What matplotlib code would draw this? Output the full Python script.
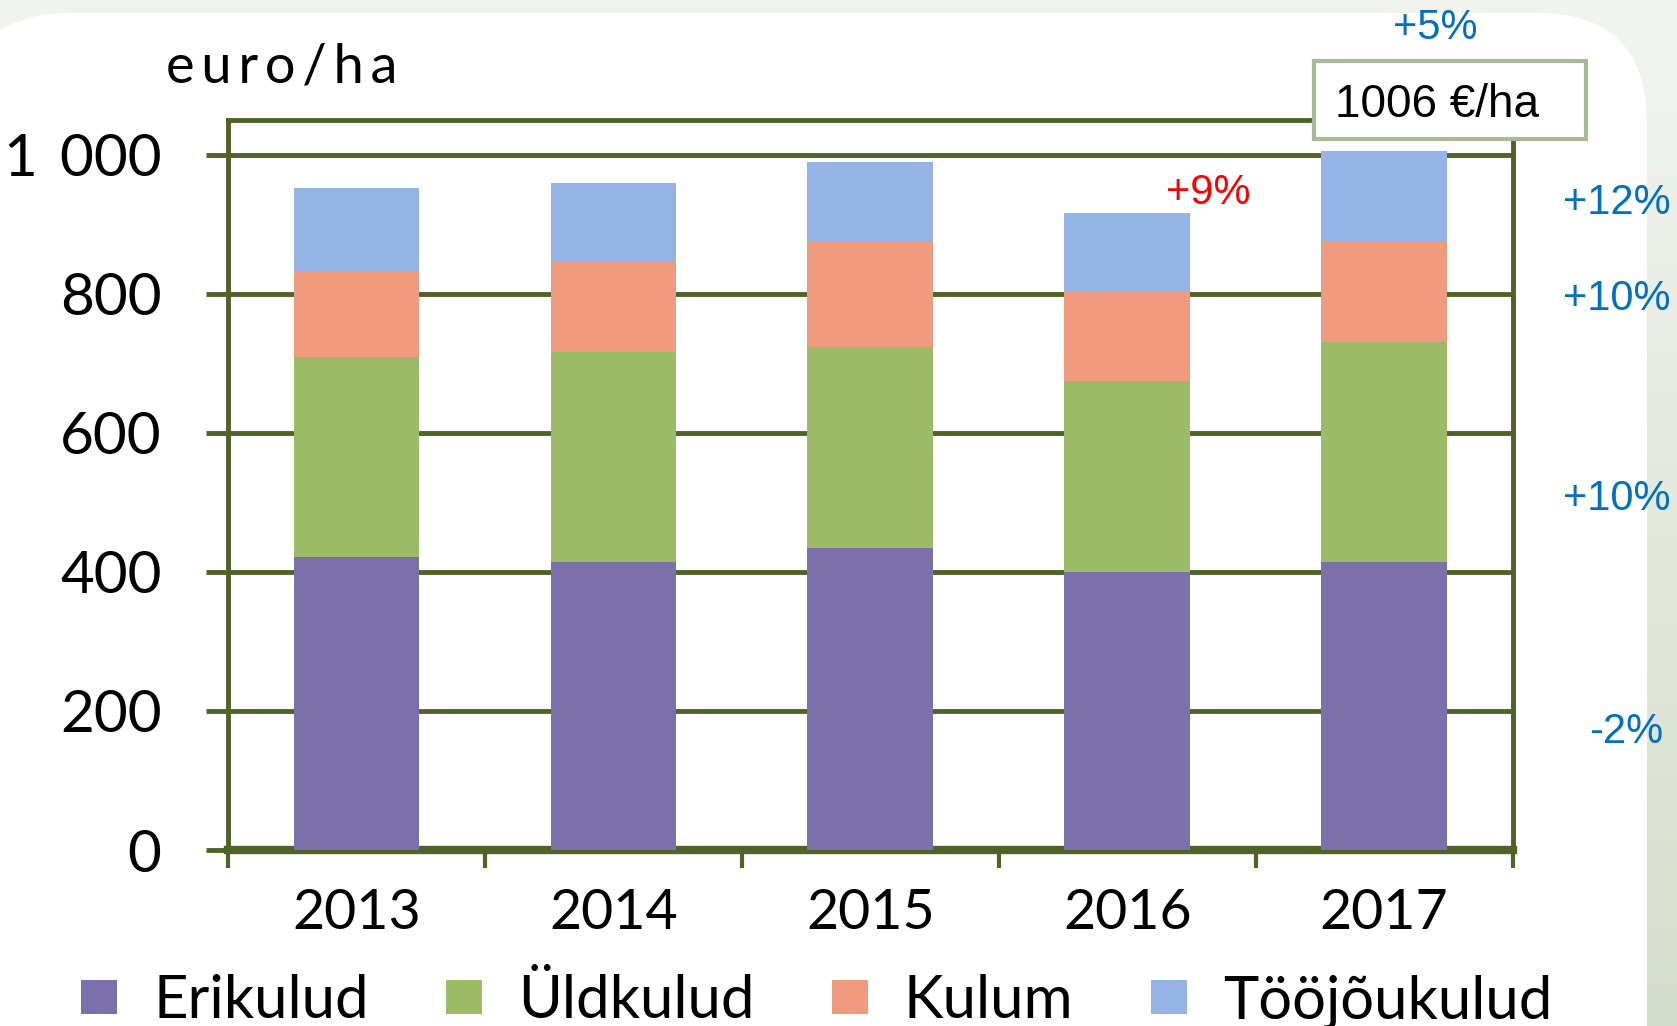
import matplotlib as mpl
mpl.use('Agg')
import matplotlib.pyplot as plt
import numpy as np
from matplotlib.patches import FancyBboxPatch, Rectangle
from matplotlib.colors import LinearSegmentedColormap

years = ['2013', '2014', '2015', '2016', '2017']
erikulud = [421, 414, 435, 400, 414]
uldkulud = [288, 303, 288, 274, 317]
kulum = [122, 129, 151, 129, 143]
toojoukulud = [121, 114, 115, 114, 132]
series_names = ['Erikulud', 'Üldkulud', 'Kulum', 'Tööjõukulud']
colors = ['#7B70AA', '#9BBB66', '#F09B7E', '#96B3E6']
total_label = '1006 €/ha'
change_labels = ['+12%', '+10%', '+10%', '-2%']

olive = '#4F6228'
blue = '#0070C0'

plt.rcParams['font.family'] = ['Lato', 'DejaVu Sans']

fig = plt.figure(figsize=(16.77, 10.26), dpi=100)

# background: soft gradient + white rounded panel
bg = fig.add_axes([0, 0, 1, 1], zorder=-10)
bg.set_xlim(0, 1677)
bg.set_ylim(0, 1026)
bg.axis('off')
grad = np.linspace(0, 1, 256).reshape(-1, 1)
cmap = LinearSegmentedColormap.from_list('bgc', ['#D5DDCB', '#F2F4F0'])
bg.imshow(grad, extent=[0, 1677, 0, 1026], aspect='auto', cmap=cmap, origin='lower')
bg.add_patch(FancyBboxPatch((-40, -200), 1687, 1213,
                            boxstyle='round,pad=0,rounding_size=110',
                            facecolor='white', edgecolor='none'))

ax = fig.add_axes([0.136, 0.1715, 0.766, 0.7115])
ax.set_facecolor('none')

x = range(len(years))
bottom = [0] * len(years)
for name, vals, c in zip(series_names, [erikulud, uldkulud, kulum, toojoukulud], colors):
    ax.bar(x, vals, 0.49, bottom=bottom, color=c, label=name, zorder=3)
    bottom = [b + v for b, v in zip(bottom, vals)]

ax.set_xlim(-0.5, 4.5)
ax.set_ylim(0, 1050)
ax.set_yticks([0, 200, 400, 600, 800, 1000])
ax.set_yticklabels(['0', '200', '400', '600', '800', '1 \u2009000'])
ax.yaxis.grid(True, color=olive, linewidth=3.5, zorder=1)
ax.set_axisbelow(True)
ax.tick_params(axis='y', length=16, width=3.5, color=olive, labelsize=42, pad=32)

ax.set_xticks(list(x))
ax.set_xticklabels(years)
ax.set_xticks([-0.5, 0.5, 1.5, 2.5, 3.5, 4.5], minor=True)
ax.tick_params(axis='x', which='major', length=0, labelsize=40, pad=27)
ax.tick_params(axis='x', which='minor', length=13, width=3, color=olive)

for side in ['left', 'right', 'top']:
    ax.spines[side].set_color(olive)
    ax.spines[side].set_linewidth(3.5)
ax.spines['bottom'].set_color(olive)
ax.spines['bottom'].set_linewidth(6)

fig.text(0.099, 0.935, '\u2009'.join('euro/ha'), fontsize=39, va='center', ha='left')

# total box for 2017
ax.add_patch(Rectangle((3.726, 1023), 1.058, 112, facecolor='white', edgecolor='#A9B896',
                       linewidth=3, zorder=5, clip_on=False))
ax.text(3.81, 1072, total_label, fontsize=33, family='Liberation Sans', ha='left', va='center',
        zorder=6, clip_on=False)
ax.text(4.197, 1182, '+5%', fontsize=30, family='Liberation Sans', color=blue, ha='center',
        va='center', clip_on=False)
ax.text(3.317, 945, '+9%', fontsize=30, family='Liberation Sans', color='#FF0000', ha='center',
        va='center')
for lab, (xp, yp) in zip(change_labels, [(4.905, 930), (4.905, 792), (4.905, 505), (4.94, 170)]):
    ax.text(xp, yp, lab, fontsize=30, family='Liberation Sans', color=blue, ha='center',
            va='center', clip_on=False)

fig.legend(loc='center', bbox_to_anchor=(0.487, 0.024), ncol=4, frameon=False,
           fontsize=43, handlelength=0.6, handleheight=0.52, handletextpad=0.6,
           columnspacing=1.3)

plt.savefig('out.png', dpi=100)
